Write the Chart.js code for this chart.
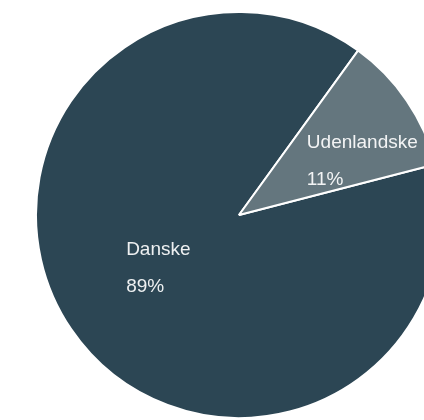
<!DOCTYPE html>
<html>
<head>
<meta charset="utf-8">
<script src="https://cdn.jsdelivr.net/npm/chart.js@4.4.1/dist/chart.umd.min.js"></script>
<style>
    html, body { margin: 0; padding: 0; background: #fff; overflow: hidden; }
    #wrap { width: 424px; height: 420px; overflow: hidden; }
</style>
</head>
<body>
<div id="wrap"><canvas id="origin" width="478" height="420"></canvas></div>
<script>
const labels = ['Danske', 'Udenlandske'];
const shares = [89, 11];
const percentLabels = ['89%', '11%'];

const sliceColors = ['#2c4654', '#64767e'];

// draws the two-line label (name + percent) inside each slice
const sliceLabels = {
    id: 'sliceLabels',
    afterDatasetsDraw(chart, args, opts) {
        const ctx = chart.ctx;
        const arcs = chart.getDatasetMeta(0).data;
        ctx.save();
        ctx.font = opts.font;
        ctx.fillStyle = opts.color;
        ctx.textAlign = 'left';
        ctx.textBaseline = 'alphabetic';
        arcs.forEach((arc, i) => {
            const pos = arc.tooltipPosition();
            const off = opts.offsets[i];
            const x = pos.x + off.dx;
            const y = pos.y + off.dy;
            ctx.fillText(labels[i], x, y);
            ctx.fillText(percentLabels[i], x, y + opts.lineGap);
        });
        ctx.restore();
    }
};

const ctx = document.getElementById('origin').getContext('2d');

new Chart(ctx, {
    type: 'pie',
    data: {
        labels: labels,
        datasets: [{
            data: shares,
            backgroundColor: sliceColors,
            borderColor: '#ffffff',
            borderWidth: 2,
            hoverOffset: 0
        }]
    },
    options: {
        responsive: false,
        animation: false,
        rotation: 75.5,
        layout: {
            padding: { top: 11, bottom: 1, left: 0, right: 0 }
        },
        plugins: {
            legend: { display: false },
            tooltip: { enabled: false },
            sliceLabels: {
                font: '19px "Liberation Sans", Arial, sans-serif',
                color: 'rgba(255,255,255,0.92)',
                lineGap: 37,
                offsets: [{ dx: -29, dy: -17 }, { dx: -16, dy: -10 }]
            }
        }
    },
    plugins: [sliceLabels]
});
</script>
</body>
</html>
